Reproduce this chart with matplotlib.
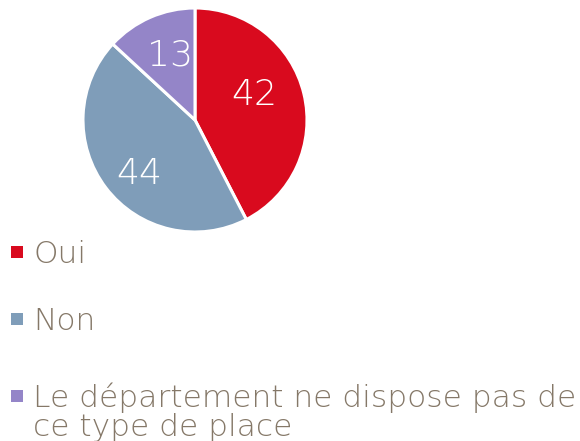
import matplotlib
matplotlib.use("Agg")
import matplotlib.pyplot as plt
from matplotlib.patches import Rectangle

categories = ["Oui", "Non", "Le département ne dispose pas de\nce type de place"]
values = [42, 44, 13]
colors = ["#D90A1E", "#7F9DB9", "#9485C8"]
text_color = "#857868"

W, H = 580, 441
fig = plt.figure(figsize=(W / 100, H / 100), dpi=100)

# pie axes: center (195,120) px, radius 112 px
cx, cy, r = 195, 120, 112
ax = fig.add_axes([(cx - r) / W, 1 - (cy + r) / H, 2 * r / W, 2 * r / H])
wedges, texts, autotexts = ax.pie(
    values, colors=colors, startangle=90, counterclock=False,
    autopct=lambda p: "", pctdistance=0.66,
    wedgeprops=dict(edgecolor="white", linewidth=2.2, clip_on=False),
)
# small label nudges (axes data units) to mimic the original label placement
nudges = [(-0.11, 0.07), (0.03, -0.08), (0.045, -0.027)]
for t, v, (dx, dy) in zip(autotexts, values, nudges):
    x, y = t.get_position()
    t.set_position((x + dx, y + dy))
    t.set_text(str(v))
    t.set_color("white")
    t.set_fontsize(26)
    t.set_fontweight("light")
ax.set_aspect("equal")
ax.set_xlim(-1.0, 1.0)
ax.set_ylim(-1.0, 1.0)
ax.axis("off")

# legend drawn manually (baselines in px)
baselines = [263, 330, 407]
line_step = 29
for cat, col, b in zip(categories, colors, baselines):
    lines = cat.split("\n")
    for i, line in enumerate(lines):
        fig.text(33 / W, 1 - (b + i * line_step) / H, line, color=text_color,
                 fontsize=22.5, fontweight="light", ha="left", va="baseline")
    fig.add_artist(Rectangle((11 / W, 1 - (b - 5) / H), 12 / W, 12 / H,
                             transform=fig.transFigure, facecolor=col,
                             edgecolor="none"))

fig.savefig("out.png", dpi=100)
